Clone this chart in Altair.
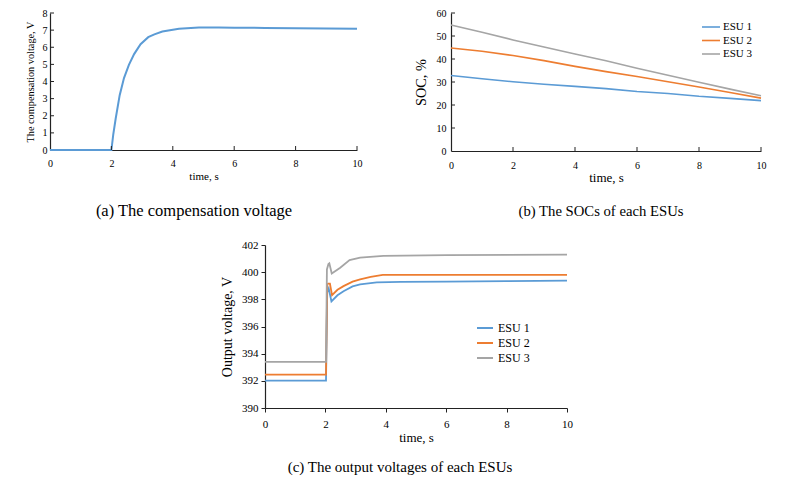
import altair as alt
import pandas as pd

# ---------------- data ----------------
# (a) compensation voltage
t_a = [0, 2.0, 2.06, 2.14, 2.27, 2.41, 2.57, 2.74, 2.95, 3.2, 3.4, 3.66, 4.2, 4.85, 5.5, 6, 7, 8, 9, 10]
v_a = [0, 0, 0.9, 1.84, 3.2, 4.2, 4.97, 5.6, 6.18, 6.59, 6.75, 6.92, 7.08, 7.16, 7.16, 7.14, 7.13, 7.11, 7.1, 7.08]

# (b) SOCs
t_b = [0, 1, 2, 3, 4, 5, 6, 7, 8, 9, 10]
soc_1 = [32.8, 31.4, 30.1, 29.0, 28.1, 27.1, 25.9, 25.0, 23.8, 22.9, 21.9]
soc_2 = [44.8, 43.4, 41.5, 39.3, 36.8, 34.5, 32.4, 30.1, 27.8, 25.4, 23.0]
soc_3 = [54.8, 51.6, 48.3, 45.2, 42.2, 39.2, 36.0, 32.9, 29.9, 26.9, 24.0]

# (c) output voltages
t_c1 = [0, 2.02, 2.06, 2.11, 2.2, 2.4, 2.6, 2.9, 3.15, 3.7, 4.5, 6, 8, 10]
v_c1 = [392.02, 392.02, 398.5, 398.8, 397.85, 398.3, 398.6, 398.95, 399.1, 399.25, 399.28, 399.3, 399.34, 399.37]
t_c2 = [0, 2.02, 2.06, 2.09, 2.15, 2.22, 2.4, 2.6, 2.9, 3.15, 3.5, 3.9, 6, 10]
v_c2 = [392.46, 392.46, 399.1, 399.15, 399.15, 398.3, 398.7, 398.97, 399.3, 399.47, 399.65, 399.8, 399.8, 399.8]
t_c3 = [0, 2.02, 2.05, 2.1, 2.13, 2.21, 2.49, 2.8, 3.15, 3.92, 6, 10]
v_c3 = [393.4, 393.4, 400.2, 400.6, 400.65, 399.9, 400.33, 400.89, 401.07, 401.2, 401.25, 401.29]

series_names = ["ESU 1", "ESU 2", "ESU 3"]
x_ticks = [0, 2, 4, 6, 8, 10]
y_ticks_a = [0, 1, 2, 3, 4, 5, 6, 7, 8]
y_ticks_b = [0, 10, 20, 30, 40, 50, 60]
y_ticks_c = [390, 392, 394, 396, 398, 400, 402]

# ---------------- style ----------------
FONT = "Liberation Serif"
BLUE, ORANGE, GRAY = "#5B9BD5", "#ED7D31", "#A5A5A5"
AX = "#222222"


def axis(title, values, lsize, tsize, lpad, tpad, ticks=False):
    kw = dict(
        title=title, values=values, grid=False,
        labelFont=FONT, labelFontSize=lsize, labelColor="black",
        titleFont=FONT, titleFontSize=tsize, titleFontWeight="normal", titleColor="black",
        domainColor=AX, domainWidth=1.2, labelPadding=lpad, titlePadding=tpad,
        labelFlush=False, labelOverlap=False,
    )
    if ticks:
        kw.update(ticks=True, tickSize=4, tickColor=AX, tickWidth=1)
    else:
        kw.update(ticks=False, tickSize=0)
    return alt.Axis(**kw)


def inward_ticks(xs, ys, xscale, yscale, xaxis, yaxis, h):
    xt = alt.Chart(pd.DataFrame({"t": xs})).mark_rule(color=AX, strokeWidth=1).encode(
        x=alt.X("t:Q", scale=xscale, axis=xaxis), y=alt.value(h), y2=alt.value(h - 4))
    yt = alt.Chart(pd.DataFrame({"v": ys})).mark_rule(color=AX, strokeWidth=1).encode(
        y=alt.Y("v:Q", scale=yscale, axis=yaxis), x=alt.value(0), x2=alt.value(4))
    return [xt, yt]


def caption(text, size, offset, dx=0):
    return alt.TitleParams(text, orient="bottom", font=FONT, fontSize=size, fontWeight="normal",
                           color="black", offset=offset, anchor="middle", frame="bounds", dx=dx)


color_scale = alt.Scale(domain=series_names, range=[BLUE, ORANGE, GRAY])

# ---------------- panel a ----------------
WA, HA = 307, 137
xs_a = alt.Scale(domain=[0, 10], nice=False)
ys_a = alt.Scale(domain=[0, 8], nice=False)
xa_a = axis("time, s", x_ticks, 10, 11, 8, 2)
ya_a = axis("The compensation voltage, V", y_ticks_a, 10, 10.3, 3, 7)
df_a = pd.DataFrame({"t": t_a, "v": v_a})
line_a = alt.Chart(df_a).mark_line(color=BLUE, strokeWidth=2).encode(
    x=alt.X("t:Q", scale=xs_a, axis=xa_a),
    y=alt.Y("v:Q", scale=ys_a, axis=ya_a),
)
panel_a = alt.layer(line_a, *inward_ticks([2, 4, 6, 8, 10], y_ticks_a[1:], xs_a, ys_a, xa_a, ya_a, HA)).properties(
    width=WA, height=HA, title=caption("(a) The compensation voltage", 16.5, 22, 0.5))

# ---------------- panel b ----------------
WB, HB = 310, 138
xs_b = alt.Scale(domain=[0, 10], nice=False)
ys_b = alt.Scale(domain=[0, 60], nice=False)
xa_b = axis("time, s", x_ticks, 10, 13, 9, 1)
ya_b = axis("SOC, %", y_ticks_b, 10, 14.3, 5, 8)
rows = []
for name, vals in zip(series_names, [soc_1, soc_2, soc_3]):
    for t, v in zip(t_b, vals):
        rows.append({"t": t, "v": v, "s": name})
df_b = pd.DataFrame(rows)
line_b = alt.Chart(df_b).mark_line(strokeWidth=1.6).encode(
    x=alt.X("t:Q", scale=xs_b, axis=xa_b),
    y=alt.Y("v:Q", scale=ys_b, axis=ya_b),
    color=alt.Color("s:N", scale=color_scale, legend=alt.Legend(
        title=None, orient="none", legendX=253, legendY=7, padding=0,
        symbolType="M-1.5,0H1.5", symbolSize=144, symbolStrokeWidth=1.6, rowPadding=1.5,
        labelFont=FONT, labelFontSize=11, labelColor="black", labelOffset=5)),
)
panel_b = alt.layer(line_b, *inward_ticks([2, 4, 6, 8, 10], y_ticks_b[1:], xs_b, ys_b, xa_b, ya_b, HB)).properties(
    width=WB, height=HB, title=caption("(b) The SOCs of each ESUs", 14.7, 20, 11))

# ---------------- panel c ----------------
WC, HC = 302, 163
xs_c = alt.Scale(domain=[0, 10], nice=False)
ys_c = alt.Scale(domain=[390, 402], nice=False, zero=False)
rows = []
for name, ts, vs in zip(series_names, [t_c1, t_c2, t_c3], [v_c1, v_c2, v_c3]):
    for t, v in zip(ts, vs):
        rows.append({"t": t, "v": v, "s": name})
df_c = pd.DataFrame(rows)
panel_c = alt.Chart(df_c).mark_line(strokeWidth=1.8).encode(
    x=alt.X("t:Q", scale=xs_c, axis=axis("time, s", x_ticks, 11, 13, 6, 2, ticks=True)),
    y=alt.Y("v:Q", scale=ys_c, axis=axis("Output voltage, V", y_ticks_c, 11, 14, 3, 7, ticks=True)),
    color=alt.Color("s:N", scale=color_scale, legend=alt.Legend(
        title=None, orient="none", legendX=211, legendY=74, padding=0,
        symbolType="stroke", symbolSize=256, symbolStrokeWidth=2, rowPadding=-3.5,
        labelFont=FONT, labelFontSize=12, labelColor="black", labelOffset=4)),
).properties(width=WC, height=HC, title=caption("(c) The output voltages of each ESUs", 15, 16, 3.5))

# invisible spacer that pushes panel (c) to the middle
spacer = alt.Chart(pd.DataFrame({"z": [0]})).mark_point(opacity=0).encode(
    x=alt.value(0), y=alt.value(0)).properties(width=170, height=10)

top_row = alt.hconcat(panel_a, panel_b, spacing=52).resolve_scale(color="independent").resolve_legend(color="independent")
bottom_row = alt.hconcat(spacer, panel_c, spacing=0).resolve_scale(color="independent").resolve_legend(color="independent")

chart = alt.vconcat(
    top_row,
    bottom_row,
    spacing=19,
).resolve_scale(color="independent").resolve_legend(color="independent").properties(
    padding={"left": 24, "top": 8, "right": 5, "bottom": 5},
    background="white",
).configure_view(stroke=None)

chart.save("out.html", embed_options={"renderer": "svg", "actions": False})
